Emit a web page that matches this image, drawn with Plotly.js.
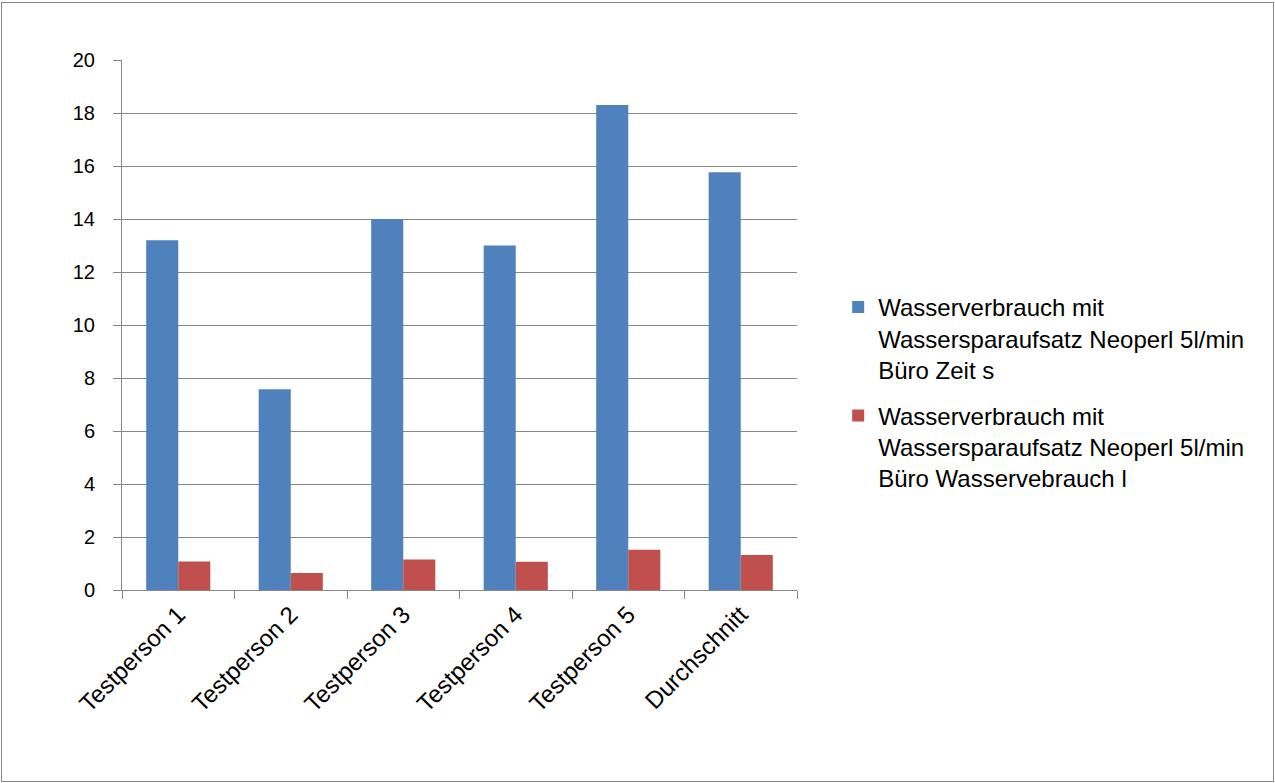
<!DOCTYPE html>
<html><head><meta charset="utf-8">
<script src="https://cdn.plot.ly/plotly-3.0.1.min.js"></script>
<style>
body{margin:0;padding:0;background:#fff;}
#wrap{position:relative;width:1275px;height:783px;}
#chart{position:absolute;left:0;top:0;width:1275px;height:783px;}
#frame{position:absolute;left:1px;top:2px;width:1271px;height:778px;border:1px solid #868686;pointer-events:none;}
</style></head>
<body>
<div id="wrap"><div id="chart"></div><div id="frame"></div></div>
<script>
const categories = ["Testperson 1","Testperson 2","Testperson 3","Testperson 4","Testperson 5","Durchschnitt"];
const zeitValues = [13.2, 7.58, 14.0, 13.0, 18.3, 15.76];
const verbrauchValues = [1.08, 0.64, 1.15, 1.07, 1.52, 1.32];
const seriesNames = [
  "Wasserverbrauch mit<br>Wassersparaufsatz Neoperl 5l/min<br>Büro Zeit s",
  "Wasserverbrauch mit<br>Wassersparaufsatz Neoperl 5l/min<br>Büro Wasservebrauch l"
];
const yTicks = [0,2,4,6,8,10,12,14,16,18,20];

const FONT = "Liberation Sans, Arial, sans-serif";
const data = [
  {type:"bar", x:categories, y:zeitValues, name:seriesNames[0], legendgroup:"a", marker:{color:"#4F81BD"}},
  {type:"bar", x:categories, y:verbrauchValues, name:seriesNames[1], legendgroup:"b", marker:{color:"#C0504D"}}
];
const layout = {
  width:1275, height:783,
  margin:{l:122, r:478, t:60, b:193},
  paper_bgcolor:"#fff", plot_bgcolor:"#fff",
  barmode:"group", bargap:0.43, bargroupgap:0,
  font:{family:FONT, size:20, color:"#000"},
  showlegend:true,
  legend:{x:1.061, y:0.372, xanchor:"left", yanchor:"middle", valign:"top",
          font:{family:FONT, size:24, color:"#000"}, tracegroupgap:12, itemwidth:30},
  xaxis:{type:"category", tickangle:-45, tickson:"boundaries", ticks:"outside", ticklen:8, tickcolor:"#868686",
         showline:true, linecolor:"#868686", linewidth:1, showgrid:false, tickfont:{size:24}},
  yaxis:{range:[0,20], tickvals:yTicks, ticktext:yTicks.map(String), ticks:"outside", ticklen:8, tickcolor:"#868686",
         showline:true, linecolor:"#868686", gridcolor:"#868686", gridwidth:1, zeroline:false,
         tickfont:{size:20}, ticklabelstandoff:14}
};
Plotly.newPlot("chart", data, layout, {displayModeBar:false, staticPlot:true});
</script>
</body></html>
